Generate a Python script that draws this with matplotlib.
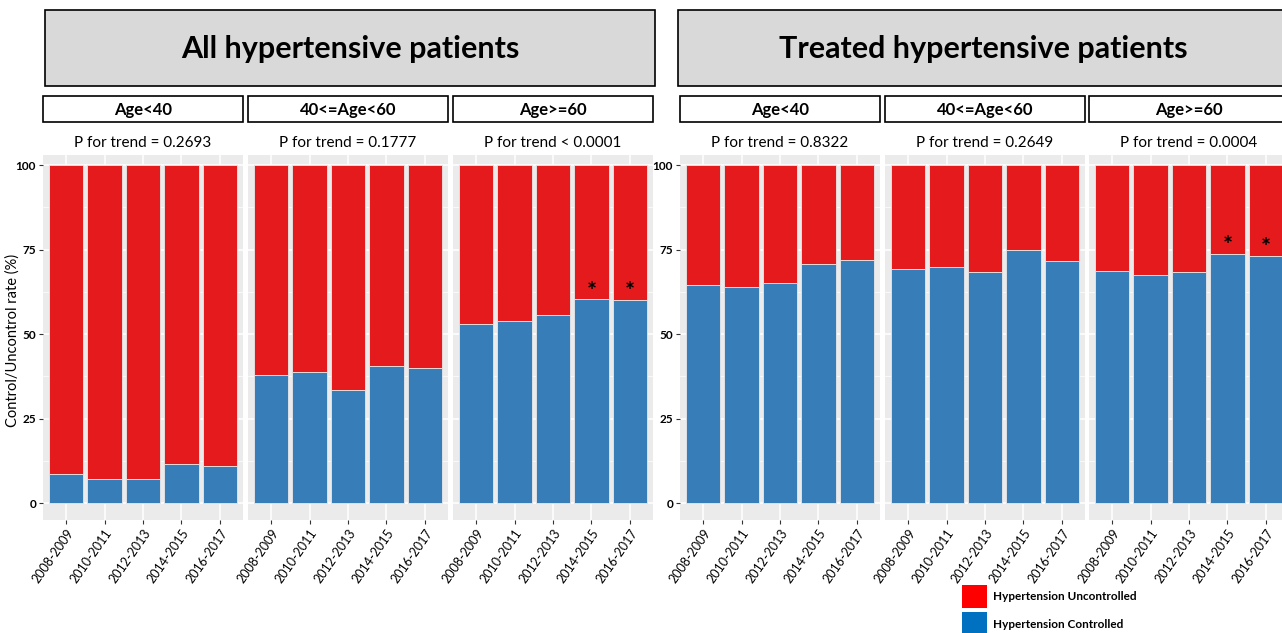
import matplotlib
matplotlib.use('Agg')
import matplotlib.pyplot as plt
from matplotlib.patches import Rectangle
import numpy as np

plt.rcParams['font.family'] = ['Lato', 'DejaVu Sans']

periods = ['2008-2009', '2010-2011', '2012-2013', '2014-2015', '2016-2017']
age_groups = ['Age<40', '40<=Age<60', 'Age>=60']

# controlled share (%) per period, uncontrolled is the rest up to 100
all_controlled = [
    [8.7, 7.2, 7.2, 11.5, 10.9],
    [38.0, 38.9, 33.5, 40.7, 40.1],
    [53.1, 54.0, 55.8, 60.4, 60.2],
]
treated_controlled = [
    [64.6, 63.9, 65.1, 70.8, 72.0],
    [69.4, 70.0, 68.5, 74.8, 71.5],
    [68.8, 67.4, 68.3, 73.8, 73.2],
]
all_ptrend = ['P for trend = 0.2693', 'P for trend = 0.1777', 'P for trend < 0.0001']
treated_ptrend = ['P for trend = 0.8322', 'P for trend = 0.2649', 'P for trend = 0.0004']
# periods flagged with an asterisk (only in the oldest age group)
star_periods = [3, 4]

RED = '#E41A1C'
BLUE = '#377EB8'
W, H = 1282, 633

fig = plt.figure(figsize=(W / 100, H / 100), dpi=100)


def fx(px):
    return px / W


def fy(py):
    return 1 - py / H


def box(x0, x1, y0, y1, face):
    fig.patches.append(Rectangle((fx(x0), fy(y1)), fx(x1 - x0), (y1 - y0) / H,
                                 transform=fig.transFigure, facecolor=face,
                                 edgecolor='black', linewidth=1.2))


def draw_group(lefts, controlled, ptrend, title, hx0, hx1, text_cx):
    box(hx0, hx1, 10, 86, '#D9D9D9')
    fig.text(fx(text_cx), fy(49), title, ha='center', va='center',
             fontsize=22, fontweight='bold')
    for i, x0 in enumerate(lefts):
        x1 = x0 + 200
        box(x0, x1, 96, 122, 'white')
        fig.text(fx((x0 + x1) / 2), fy(110), age_groups[i], ha='center', va='center',
                 fontsize=12, fontweight='bold')
        fig.text(fx((x0 + x1) / 2), fy(143), ptrend[i], ha='center', va='center', fontsize=11)

        ax = fig.add_axes([fx(x0), fy(520), fx(200), 365 / H])
        ax.set_facecolor('#EBEBEB')
        ctrl = np.array(controlled[i])
        xs = np.arange(1, len(periods) + 1)
        ax.bar(xs, ctrl, width=0.9, color=BLUE, edgecolor='#E8E8E8', linewidth=0.6)
        ax.bar(xs, 100 - ctrl, bottom=ctrl, width=0.9, color=RED, edgecolor='#E8E8E8',
               linewidth=0.6)
        if i == 2:
            for k in star_periods:
                ax.text(xs[k], ctrl[k] + 2.0, '*', ha='center', va='center',
                        fontsize=17, fontweight='bold')
        ax.set_xlim(0.4, 5.6)
        ax.set_ylim(-5, 103)
        ax.set_xticks(xs)
        ax.set_xticklabels(periods, rotation=55, ha='right', rotation_mode='anchor',
                           fontsize=9)
        ax.set_yticks([0, 25, 50, 75, 100])
        ax.set_yticks([12.5, 37.5, 62.5, 87.5], minor=True)
        ax.grid(True, which='major', color='white', linewidth=1.1)
        ax.grid(True, which='minor', axis='y', color='white', linewidth=0.5)
        ax.set_axisbelow(True)
        for s in ax.spines.values():
            s.set_visible(False)
        ax.tick_params(axis='x', length=3, color='#333333', pad=2)
        ax.tick_params(axis='y', which='major', length=3, color='#333333', pad=2)
        ax.tick_params(axis='y', which='minor', length=0)
        if i == 0:
            ax.set_yticklabels(['0', '25', '50', '75', '100'], fontsize=8.5,
                               fontweight='bold')
        else:
            ax.set_yticklabels([])
            ax.tick_params(axis='y', which='major', length=0)


draw_group([43, 248, 453], all_controlled, all_ptrend,
           'All hypertensive patients', 45, 655, 350)
draw_group([680, 885, 1089], treated_controlled, treated_ptrend,
           'Treated hypertensive patients', 678, 1290, 983)

fig.text(fx(13), fy(340), 'Control/Uncontrol rate (%)', rotation=90,
         ha='center', va='center', fontsize=10.5)

# legend
fig.patches.append(Rectangle((fx(962), fy(608)), fx(25), 23 / H, transform=fig.transFigure,
                             facecolor='#FF0000', edgecolor='none'))
fig.patches.append(Rectangle((fx(962), fy(635)), fx(25), 23 / H, transform=fig.transFigure,
                             facecolor='#0070C0', edgecolor='none'))
fig.text(fx(993), fy(597), 'Hypertension Uncontrolled', ha='left', va='center',
         fontsize=8.5, fontweight='bold')
fig.text(fx(993), fy(624), 'Hypertension Controlled', ha='left', va='center',
         fontsize=8.5, fontweight='bold')

fig.savefig('out.png', dpi=100)
